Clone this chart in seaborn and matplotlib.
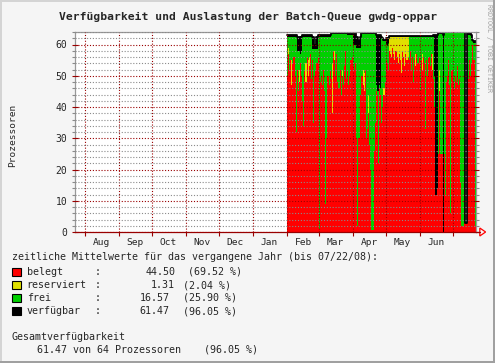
import numpy as np
import pandas as pd
import seaborn as sns
import matplotlib.pyplot as plt
import matplotlib.dates as mdates
from matplotlib.ticker import MultipleLocator, FixedLocator, FixedFormatter, NullFormatter
from matplotlib.patches import Rectangle, Polygon

# Tageswerte ab 01.02.2008 (vorher keine Daten), bis 21.07.2008
start = "2008-02-01"

belegt = [
    # Feb
    50, 57, 52, 55, 47, 54, 56, 50, 32, 52, 45, 48, 54, 50, 42, 34, 52, 48, 56, 50,
    53, 57, 49, 55, 35, 50, 52, 54, 56,
    # Mar
    1, 48, 50, 47, 52, 45, 9, 30, 50, 47, 52, 49, 38, 58, 55, 50, 57, 48, 46, 52,
    44, 50, 47, 53, 58, 49, 52, 47, 50, 55, 56,
    # Apr
    53, 52, 54, 30, 2, 30, 30, 44, 50, 47, 45, 52, 30, 33, 38, 28, 20, 0.5, 0.5, 26,
    35, 45, 44, 22, 46, 44, 35, 40, 44, 48,
    # May
    55, 54, 52, 58, 57, 56, 59, 57, 55, 58, 56, 54, 57, 55, 51, 58, 56, 53, 57, 55,
    56, 55, 58, 52, 56, 48, 55, 53, 57, 54, 56,
    # Jun
    45, 55, 52, 56, 54, 33, 55, 50, 56, 53, 57, 52, 49, 40, 12, 12, 14, 25, 45, 25,
    25, 0, 25, 12, 48, 50, 55, 47, 6, 52,
    # Jul
    48, 46, 50, 48, 53, 47, 49, 16, 2, 2, 16, 3, 3, 52, 49, 55, 50, 54, 60, 55, 2,
]

reserviert = [
    # Feb
    0, 2, 0, 0, 8, 0, 0, 0, 0, 0, 0, 4, 0, 0, 0, 0, 0, 6, 0, 5,
    3, 0, 0, 0, 0, 0, 0, 0, 0,
    # Mar
    0, 0, 0, 0, 0, 0, 0, 0, 0, 0, 0, 0, 16, 0, 3, 0, 0, 0, 0, 0,
    0, 2, 0, 0, 0, 0, 0, 0, 0, 0, 0,
    # Apr
    0, 0, 0, 0, 0, 0, 0, 0, 0, 5, 6, 0, 0, 0, 6, 0, 0, 0, 0, 0,
    0, 0, 0, 0, 0, 0, 0, 0, 2, 0,
    # May
    0, 0, 0, 4.3, 5.3, 6.3, 3.3, 5.3, 7.3, 4.3, 6.3, 8.3, 5.3, 7.3, 11.3, 4.3, 6.3, 9.3, 5.3, 7.3,
    6.3, 0, 0, 0, 0, 0, 0, 4, 0, 0, 0,
    # Jun
    0, 0, 5, 0, 0, 0, 0, 0, 0, 0, 0, 5, 0, 0, 0, 0, 0, 0, 7, 0,
    0, 0, 0, 0, 0, 0, 0, 0, 0, 0,
    # Jul
    0, 0, 0, 0, 0, 0, 0, 0, 0, 0, 0, 0, 0, 0, 0, 0, 0, 0, 0, 0, 0,
]

frei = [
    # Feb
    12.3, 3.3, 10.3, 7.3, 7.3, 8.3, 6.3, 12.3, 30.3, 6, 13, 6, 3, 8, 20.3, 28.3, 10.3, 8.3, 6.3, 7.3,
    6.3, 5.3, 13.3, 3.5, 23.5, 8.5, 6.5, 4.5, 6.3,
    # Mar
    61.3, 14.3, 12.3, 15.3, 10.3, 17.3, 53.3, 32.3, 12.3, 15.3, 10.3, 14.5, 9.5, 5.5, 5.5, 13.5, 6.5, 15.5, 17.5, 11.5,
    19.5, 11.5, 16.5, 10.5, 5.5, 14.5, 11, 16, 13, 8, 7,
    # Apr
    7, 8, 6, 29, 57, 29, 29, 15, 13.5, 11.5, 12.5, 11.5, 33.5, 30.5, 19.5, 35.5, 43.5, 63, 63, 37.5,
    28.5, 2, 1, 23, 1, 2, 27, 21.5, 15, 13,
    # May
    5, 5.5, 8.5, 0, 0, 0, 0, 0, 0, 0, 0, 0, 0, 0, 0, 0, 0, 0, 0, 0,
    0, 7.3, 4.3, 10.3, 6.3, 14.3, 7.3, 5.3, 5.3, 8.3, 6.3,
    # Jun
    17.3, 7.3, 5.3, 6.3, 8.3, 29.3, 7.3, 12.3, 6.3, 9.3, 5.3, 5.3, 13.5, 10, 0, 0, 0, 38.5, 11.5, 38.5,
    38.5, 0, 39, 52, 16, 14, 9, 17, 58, 12,
    # Jul
    16, 18, 14, 16, 11, 17, 15, 48, 62, 62, 48, 0, 0, 11, 14, 8, 13, 8, 1, 5.5, 58.5,
]

verfuegbar = [
    # Feb
    63, 63, 63, 63, 63, 63, 63, 63, 63, 62.5, 62.5, 62.5, 59.5, 62.5, 63, 63, 63, 63, 63, 63,
    63, 63, 63, 62.5, 62.5, 60, 60, 62.5, 63,
    # Mar
    63, 63, 63, 63, 63, 63, 63, 63, 63, 63, 63, 64, 64, 64, 64, 64, 64, 64, 64, 64,
    64, 64, 64, 64, 64, 64, 64, 64, 64, 64, 64,
    # Apr
    64, 64, 64, 62.5, 62.5, 61, 61, 62.5, 64, 64, 64, 64, 64, 64, 64, 64, 64, 64, 64, 64,
    64, 63, 63, 63, 63, 63, 62.5, 62, 61.5, 61.5,
    # May
    62, 60.5, 62, 62.7, 62.7, 62.7, 62.7, 62.7, 62.7, 62.7, 62.7, 62.7, 62.7, 62.7, 62.7, 62.7, 62.7, 62.7, 62.7, 62.7,
    62.7, 62.7, 62.7, 62.7, 62.7, 62.7, 62.7, 62.7, 62.7, 62.7, 62.7,
    # Jun
    62.7, 62.7, 62.7, 62.7, 62.7, 62.7, 62.7, 62.7, 62.7, 62.7, 62.7, 62.7, 63, 63, 63, 63, 63, 63.7, 63.7, 63.7,
    63.7, 63, 64.3, 64.3, 64.3, 64.3, 64.3, 64.3, 64.3, 64.3,
    # Jul
    64.3, 64.3, 64.3, 64.3, 64.3, 64.3, 64.3, 64.3, 64.3, 64.3, 64.3, 3, 3, 64.3, 64.3, 64.3, 64.3, 63, 61.5, 61, 61,
]

month_labels = ["Aug", "Sep", "Oct", "Nov", "Dec", "Jan", "Feb", "Mar", "Apr", "May", "Jun"]

legend_names = ["belegt", "reserviert", "frei", "verfügbar"]
legend_means = ["44.50", "1.31", "16.57", "61.47"]
legend_pct = ["(69.52 %)", "(2.04 %)", "(25.90 %)", "(96.05 %)"]
colors = ["#ff0000", "#e0e000", "#00d000", "#000000"]

W, H = 495, 363
BG = "#f5f5f5"

sns.set_style("white")
plt.rcParams["font.family"] = ["DejaVu Sans Mono"]

fig = plt.figure(figsize=(W / 100, H / 100), dpi=100, facecolor=BG)
ax = fig.add_axes([75 / W, 1 - 232 / H, 400.6 / W, 200 / H])
ax.set_facecolor("white")

# step data
days = pd.date_range(start, periods=len(belegt), freq="D")
x = np.append(mdates.date2num(days), mdates.date2num(days[-1] + pd.Timedelta(days=1)))

def ext(a):
    a = np.asarray(a, dtype=float)
    return np.append(a, a[-1])

b = ext(belegt)
br = b + ext(reserviert)
brf = br + ext(frei)
v = ext(verfuegbar)

ax.fill_between(x, 0, v, step="post", color=colors[3], lw=0, antialiased=False)
ax.fill_between(x, 0, b, step="post", color=colors[0], lw=0, antialiased=False)
ax.fill_between(x, b, br, step="post", color=colors[1], lw=0, antialiased=False)
ax.fill_between(x, br, brf, step="post", color=colors[2], lw=0, antialiased=False)

line_df = pd.DataFrame({"t": x, "v": v})
sns.lineplot(data=line_df, x="t", y="v", drawstyle="steps-post", color="black",
             lw=1.3, ax=ax, estimator=None)
ax.set_xlabel("")
ax.set_ylabel("")

# axes
ax.set_xlim(mdates.date2num(pd.Timestamp("2007-07-23")), mdates.date2num(pd.Timestamp("2008-07-22")))
ax.set_ylim(0, 64)
ax.yaxis.set_major_locator(MultipleLocator(10))
ax.yaxis.set_minor_locator(MultipleLocator(2))
ax.xaxis.set_major_locator(mdates.MonthLocator())
ax.xaxis.set_major_formatter(NullFormatter())
mids = pd.date_range("2007-08-01", periods=len(month_labels), freq="MS") + pd.Timedelta(days=15)
ax.xaxis.set_minor_locator(FixedLocator(mdates.date2num(mids)))
ax.xaxis.set_minor_formatter(FixedFormatter(month_labels))

ax.set_axisbelow(False)
dots = (0, (1, 1.6))
ax.grid(which="major", axis="both", color="#990000", ls=dots, lw=0.8)
ax.grid(which="minor", axis="y", color="#8a8a8a", ls=dots, lw=0.8)
ax.grid(which="minor", axis="x", visible=False)

ax.tick_params(axis="y", which="major", left=True, right=True, direction="inout",
               length=5, width=0.8, color="#990000", labelsize=7, pad=3)
ax.tick_params(axis="y", which="minor", left=True, right=True, direction="out",
               length=2, width=0.8, color="#8a8a8a")
ax.tick_params(axis="x", which="major", bottom=True, direction="out",
               length=3, width=0.8, color="#990000")
ax.tick_params(axis="x", which="minor", bottom=True, length=0, labelsize=6.8, pad=4)

for side in ["left", "right", "top"]:
    ax.spines[side].set_color("#999999")
    ax.spines[side].set_linewidth(0.9)
ax.spines["bottom"].set_color("#990000")
ax.spines["bottom"].set_linewidth(0.9)

# arrow at the end of the time axis
ax.plot([1, 1.012], [0, 0], transform=ax.transAxes, color="#990000", lw=0.9, clip_on=False)
ax.add_patch(Polygon([[1.0105, -0.02], [1.0105, 0.02], [1.025, 0]], closed=True,
                     transform=ax.transAxes, facecolor="none", edgecolor="#ff0000",
                     lw=0.9, clip_on=False))

# texts
def fx(px):
    return px / W

def fy(py):
    return 1 - py / H

fig.text(fx(248), fy(19.5), "Verfügbarkeit und Auslastung der Batch-Queue gwdg-oppar",
         ha="center", va="baseline", fontsize=8.2, fontweight="bold")
fig.text(fx(13), fy(135), "Prozessoren", rotation=90, ha="center", va="center", fontsize=6.8)
fig.text(fx(488.5), fy(48), "RRDTOOL / TOBI OETIKER", rotation=270, ha="center", va="center",
         fontsize=4.8, color="#a0a0a0")

fs = 7.2
fig.text(fx(12), fy(260.5), "zeitliche Mittelwerte für das vergangene Jahr (bis 07/22/08):",
         fontsize=fs, va="baseline")
row_base = [275, 288, 301, 314]
mean_right = [175.7, 175, 169.3, 169.3]
pct_left = [188.3, 182.7, 182.7, 182.7]
for i in range(4):
    yb = row_base[i]
    fig.patches.append(Rectangle((fx(12), fy(yb + 1)), 8.5 / W, 8.5 / H, transform=fig.transFigure,
                                 facecolor=colors[i], edgecolor="black", lw=0.8))
    fig.text(fx(26.7), fy(yb), legend_names[i], fontsize=fs, va="baseline")
    fig.text(fx(94.3), fy(yb), ":", fontsize=fs, va="baseline")
    fig.text(fx(mean_right[i]), fy(yb), legend_means[i], fontsize=fs, va="baseline", ha="right")
    fig.text(fx(pct_left[i]), fy(yb), legend_pct[i], fontsize=fs, va="baseline")

fig.text(fx(12), fy(340), "Gesamtverfügbarkeit", fontsize=fs, va="baseline")
fig.text(fx(36.7), fy(352.7), "61.47 von 64 Prozessoren", fontsize=fs, va="baseline")
fig.text(fx(204), fy(352.7), "(96.05 %)", fontsize=fs, va="baseline")

# 3D frame
fig.patches.append(Rectangle((0, 1 - 2 / H), 1, 2 / H, transform=fig.transFigure, color="#d4d4d4", lw=0))
fig.patches.append(Rectangle((0, 0), 2 / W, 1, transform=fig.transFigure, color="#d4d4d4", lw=0))
fig.patches.append(Rectangle((0, 0), 1, 2 / H, transform=fig.transFigure, color="#a0a0a0", lw=0))
fig.patches.append(Rectangle((1 - 2 / W, 0), 2 / W, 1, transform=fig.transFigure, color="#a0a0a0", lw=0))

fig.savefig("out.png", dpi=100, facecolor=BG)
